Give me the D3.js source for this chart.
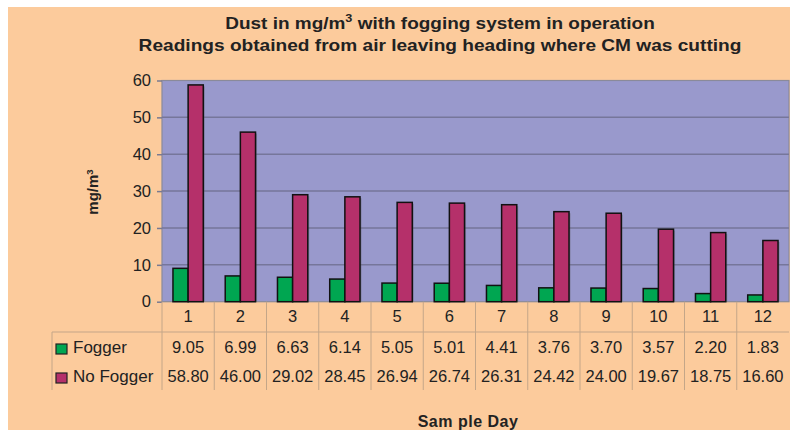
<!DOCTYPE html>
<html><head><meta charset="utf-8">
<script src="https://cdn.jsdelivr.net/npm/d3@7"></script>
<style>body{margin:0;background:#fff}svg{display:block}text{font-family:"Liberation Sans",Arial,sans-serif}</style>
</head><body><svg id="c" width="790" height="430"></svg>
<script>
const days = ["1","2","3","4","5","6","7","8","9","10","11","12"];
const fogger = [9.05,6.99,6.63,6.14,5.05,5.01,4.41,3.76,3.70,3.57,2.20,1.83];
const noFogger = [58.80,46.00,29.02,28.45,26.94,26.74,26.31,24.42,24.00,19.67,18.75,16.60];
const seriesNames = ["Fogger","No Fogger"];
const seriesColors = ["#00a651","#b5306a"];
const yTicks = [0,10,20,30,40,50,60];

const svg = d3.select("#c");
svg.append("rect").attr("x",8).attr("y",7).attr("width",782).attr("height",423).attr("fill","#fccb9c");

const L=162, R=789, T=80.5, B=301.7;
const x = d3.scaleBand().domain(days).range([L,R]).paddingInner(0).paddingOuter(0);
const y = d3.scaleLinear().domain([0,60]).range([B,T]);

// plot area
svg.append("rect").attr("x",L).attr("y",T).attr("width",R-L).attr("height",B-T)
  .attr("fill","#9999cc").attr("stroke","#8a8a9a").attr("stroke-width",1.2);

// grid + y axis
const yAxis = d3.axisLeft(y).tickValues(yTicks).tickSize(5).tickPadding(6);
const ga = svg.append("g").attr("transform",`translate(${L},0)`).call(yAxis);
ga.select(".domain").remove();
ga.selectAll(".tick line").attr("stroke","#7a7a90").attr("stroke-width",1.5);
ga.selectAll(".tick text").attr("font-size",16.5).attr("fill","#222").style("font-family","Liberation Sans, Arial");
svg.append("g").selectAll("line").data(yTicks.filter(d=>d>0&&d<60)).join("line")
  .attr("x1",L).attr("x2",R).attr("y1",d=>y(d)).attr("y2",d=>y(d))
  .attr("stroke","#76769a").attr("stroke-width",1.5);

// bars
const bw = x.bandwidth()*0.29;
const series = [fogger,noFogger];
series.forEach((vals,si)=>{
  const g = svg.append("g");
  const xs = d => x(days[d]) + x.bandwidth()/2 + (si-1)*bw;
  g.selectAll("rect.sh").data(vals.map((v,i)=>[i,v])).join("rect")
    .attr("x",d=>xs(d[0])+1.5).attr("y",d=>y(d[1])+1.5).attr("width",bw).attr("height",d=>B-y(d[1])-1.5)
    .attr("fill","#555").attr("fill-opacity",0.35);
  g.selectAll("rect.b").data(vals.map((v,i)=>[i,v])).join("rect")
    .attr("x",d=>xs(d[0])).attr("y",d=>y(d[1])).attr("width",bw).attr("height",d=>B-y(d[1]))
    .attr("fill",seriesColors[si]).attr("stroke","#111").attr("stroke-width",1.5);
});

// data table
const lineCol = "#c4a688";
const bounds = days.map(d=>x(d));
svg.append("g").selectAll("line").data(bounds).join("line")
  .attr("x1",d=>d).attr("x2",d=>d).attr("y1",B).attr("y2",390)
  .attr("stroke",lineCol).attr("stroke-width",1);
svg.append("line").attr("x1",52).attr("x2",R).attr("y1",332).attr("y2",332).attr("stroke",lineCol).attr("stroke-width",1.2);
svg.append("line").attr("x1",52).attr("x2",52).attr("y1",332).attr("y2",390).attr("stroke",lineCol).attr("stroke-width",1);

svg.append("g").selectAll("text").data(days).join("text")
  .attr("x",d=>x(d)+x.bandwidth()/2).attr("y",322).attr("text-anchor","middle")
  .attr("font-size",16.5).attr("fill","#222").text(d=>d);

const rowY = [353,382];
series.forEach((vals,si)=>{
  svg.append("rect").attr("x",56).attr("y",rowY[si]-9).attr("width",11).attr("height",10)
    .attr("fill",seriesColors[si]).attr("stroke","#222").attr("stroke-width",1.2);
  svg.append("text").attr("x",73).attr("y",rowY[si]).attr("font-size",17).attr("fill","#222").text(seriesNames[si]);
  svg.append("g").selectAll("text").data(vals).join("text")
    .attr("x",(d,i)=>x(days[i])+x.bandwidth()/2).attr("y",rowY[si]).attr("text-anchor","middle")
    .attr("font-size",16.5).attr("fill","#222").text(d=>d.toFixed(2));
});

// titles (stretched horizontally like the reference)
function fitX(sel, cx, cy, target){
  const w = sel.node().getComputedTextLength();
  sel.attr("transform",`translate(${cx},${cy}) scale(${target/w},1)`);
}
const t1 = svg.append("text").attr("text-anchor","middle")
  .attr("font-size",16.5).attr("font-weight","bold").attr("fill","#222");
t1.append("tspan").text("Dust in mg/m");
t1.append("tspan").attr("dy",-7).attr("font-size",11).text("3");
t1.append("tspan").attr("dy",7).text(" with fogging system in operation");
fitX(t1,440,29,430);
const t2 = svg.append("text").attr("text-anchor","middle")
  .attr("font-size",16.5).attr("font-weight","bold").attr("fill","#222")
  .text("Readings obtained from air leaving heading where CM was cutting");
fitX(t2,440,51,603);

const yl = svg.append("text").attr("text-anchor","middle")
  .attr("font-size",15).attr("font-weight","bold").attr("fill","#222");
yl.append("tspan").text("mg/m");
yl.append("tspan").attr("dy",-5).attr("font-size",9.5).text("3");
yl.attr("transform","translate(98,192) rotate(-90)");

svg.append("text").attr("x",468).attr("y",427).attr("text-anchor","middle")
  .attr("font-size",16).attr("font-weight","bold").attr("fill","#222").attr("letter-spacing",0.5)
  .text("Sam ple Day");
</script></body></html>
